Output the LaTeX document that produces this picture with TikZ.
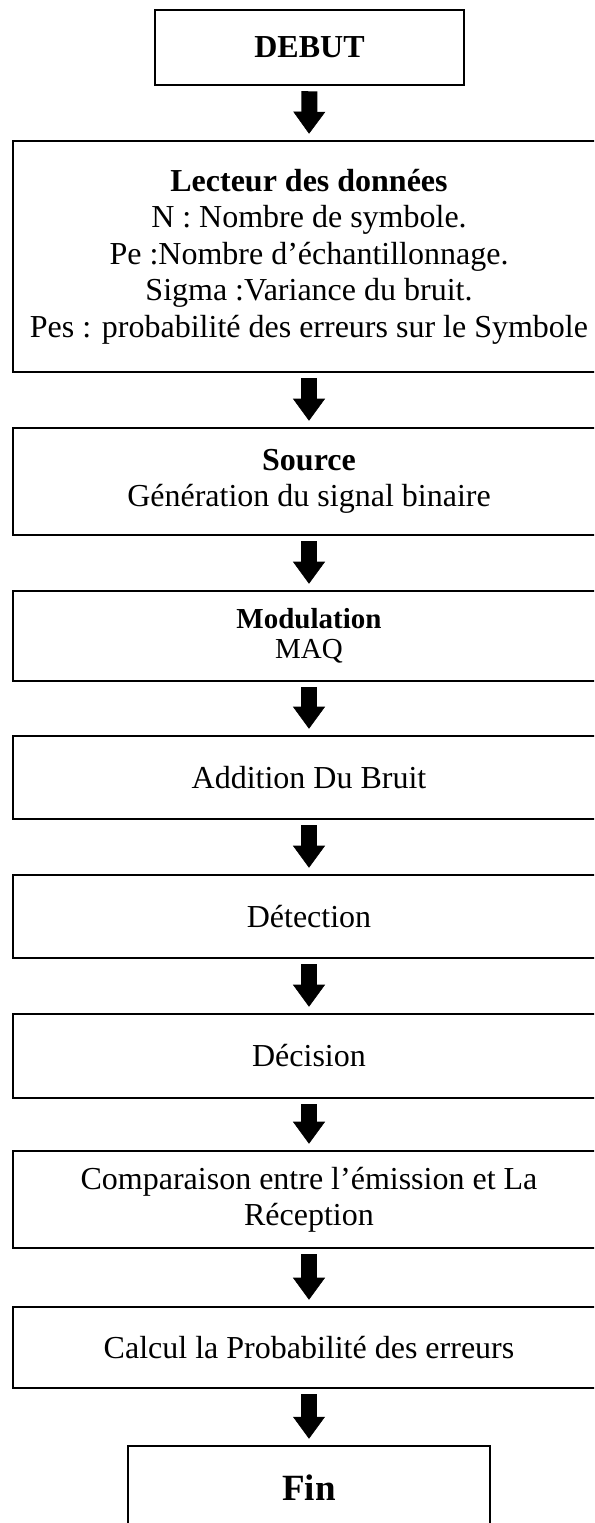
\documentclass[tikz,border=0pt]{standalone}
\usepackage{fontspec}
\setmainfont{Liberation Serif}
\usetikzlibrary{arrows.meta}
\begin{document}
\begin{tikzpicture}[x=0.75pt,y=-0.75pt,
  box/.style={draw=black, line width=1.9pt, rectangle, inner sep=0pt, align=center,
    font=\fontsize{24pt}{27.4pt}\selectfont, minimum width=444pt},
  small/.style={font=\fontsize{21.75pt}{22.5pt}\selectfont},
  big/.style={font=\fontsize{27.75pt}{30pt}\selectfont},
  flowarrow/.style={line width=12pt, line cap=butt,
    -{Triangle[width=24pt,length=16.5pt,line width=0.4pt]},
    shorten <=3.75pt, shorten >=4.5pt}]
\useasboundingbox (0,0) rectangle (594,1523);
\clip (0,0) rectangle (594,1523);

\node[box, minimum width=231.75pt, minimum height=56.25pt] (debut) at (309.5,47.5) {\textbf{DEBUT}};
\node[box, minimum height=173.25pt] (lect) at (309,256.5)
  {\textbf{Lecteur des données}\\N : Nombre de symbole.\\Pe :Nombre d’échantillonnage.\\Sigma :Variance du bruit.\\Pes : probabilité des erreurs sur le Symbole};
\node[box, minimum height=80.25pt, font=\fontsize{24pt}{27pt}\selectfont] (src) at (309,481.5)
  {\textbf{Source}\\Génération du signal binaire};
\node[box, small, minimum height=67.5pt] (mod) at (309,636) {\textbf{Modulation}\\MAQ};
\node[box, minimum height=62.25pt] (add) at (309,777.5) {Addition Du Bruit};
\node[box, minimum height=62.25pt] (det) at (309,916.5) {Détection};
\node[box, minimum height=63pt] (dec) at (309,1056) {Décision};
\node[box, minimum height=72.75pt, font=\fontsize{24pt}{27pt}\selectfont] (comp) at (309,1199.5)
  {Comparaison entre l’émission et La\\Réception};
\node[box, minimum height=60.75pt] (calc) at (309,1347.5) {Calcul la Probabilité des erreurs};
\node[box, big, minimum width=271.5pt, minimum height=63pt] (fin) at (309,1488) {\textbf{Fin}};

\draw[flowarrow] (debut.south) -- (lect.north);
\draw[flowarrow] (lect.south) -- (src.north);
\draw[flowarrow] (src.south) -- (mod.north);
\draw[flowarrow] (mod.south) -- (add.north);
\draw[flowarrow] (add.south) -- (det.north);
\draw[flowarrow] (det.south) -- (dec.north);
\draw[flowarrow] (dec.south) -- (comp.north);
\draw[flowarrow] (comp.south) -- (calc.north);
\draw[flowarrow] (calc.south) -- (fin.north);
\end{tikzpicture}
\end{document}
